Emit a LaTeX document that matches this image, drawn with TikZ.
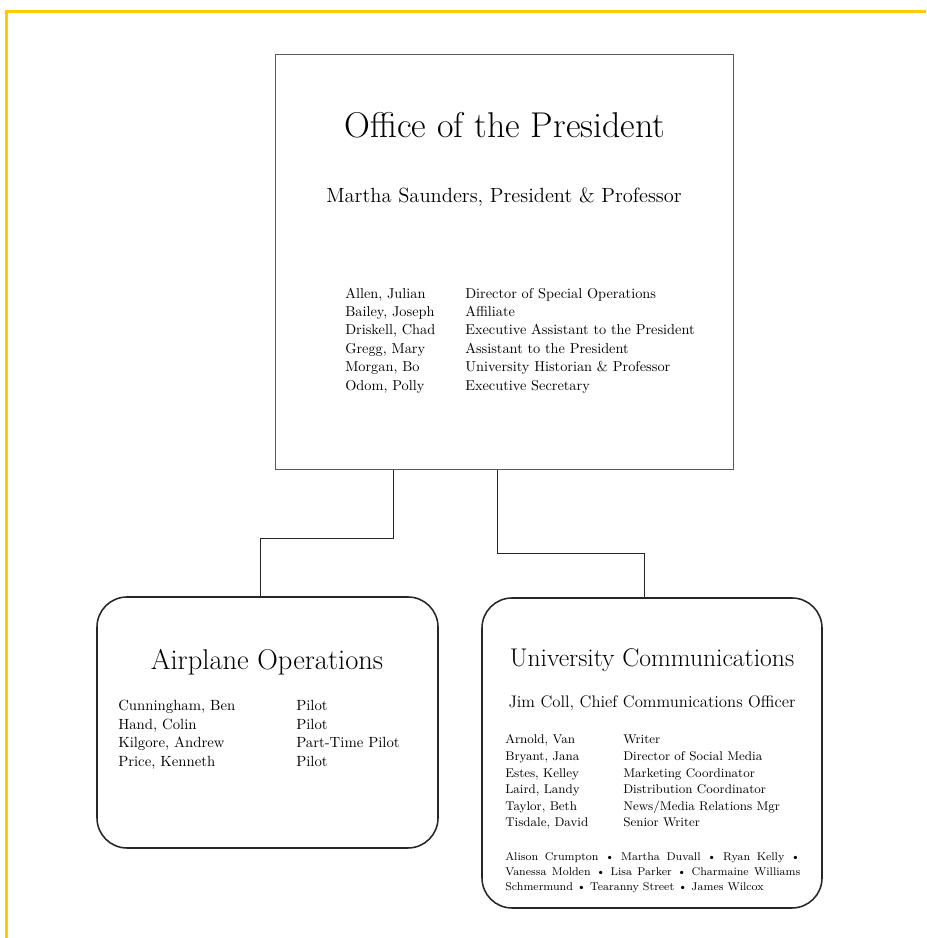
\documentclass[tikz,border=0pt]{standalone}
\usepackage{fontspec}

\begin{document}
\begin{tikzpicture}[
  orgbox/.style={shape=rectangle,draw=black!65,line width=0.7pt,inner sep=0pt},
  unitbox/.style={orgbox,rounded corners=0.75cm,draw=black!85,line width=1.1pt},
  staff/.style={anchor=north west,inner sep=0pt,align=left},
  link/.style={draw=black!85,line width=0.7pt}]
\definecolor{orgchart_gold}{RGB}{255,204,0}
\useasboundingbox (0,0) rectangle (23.15,23.45);
\draw[color=orgchart_gold,line width=0.08cm] (0.16,0) to (0.16,23.16) to (23.15,23.16);

% office of the president
\node[orgbox,minimum width=11.45cm,minimum height=10.375cm] (pres) at (12.6,16.8875) {};
\node[font=\fontsize{25.5}{30}\selectfont] (prestitle) at (12.625,20.325) {Office of the President};
\node[font=\fontsize{14.6}{17}\selectfont] (preshead) at (12.6,18.525) {Martha Saunders, President \& Professor};
\node[staff,font=\fontsize{10.2}{13.1}\selectfont] (presstaff) at (8.625,16.325) {%
\begin{tabular}{@{}p{3cm}@{}l@{}}
Allen, Julian & Director of Special Operations\\
Bailey, Joseph & Affiliate\\
Driskell, Chad & Executive Assistant to the President\\
Gregg, Mary & Assistant to the President\\
Morgan, Bo & University Historian \& Professor\\
Odom, Polly & Executive Secretary
\end{tabular}};

% airplane operations
\node[unitbox,minimum width=8.525cm,minimum height=6.275cm] (air) at (6.6875,5.3875) {};
\node[font=\fontsize{20.3}{24}\selectfont] (airtitle) at (6.675,6.9) {Airplane Operations};
\node[staff,font=\fontsize{10.5}{13.3}\selectfont] (airstaff) at (2.95,6.025) {%
\begin{tabular}{@{}p{4.45cm}@{}l@{}}
Cunningham, Ben & Pilot\\
Hand, Colin & Pilot\\
Kilgore, Andrew & Part-Time Pilot\\
Price, Kenneth & Pilot
\end{tabular}};

% university communications
\node[unitbox,minimum width=8.5cm,minimum height=7.75cm] (comm) at (16.3,4.625) {};
\node[font=\fontsize{18.2}{22}\selectfont] (commtitle) at (16.3,6.95) {University Communications};
\node[font=\fontsize{11.9}{14}\selectfont] (commhead) at (16.3,5.875) {Jim Coll, Chief Communications Officer};
\node[staff,font=\fontsize{9}{11.8}\selectfont] (commstaff) at (12.625,5.15) {%
\begin{tabular}{@{}p{2.95cm}@{}l@{}}
Arnold, Van & Writer\\
Bryant, Jana & Director of Social Media\\
Estes, Kelley & Marketing Coordinator\\
Laird, Landy & Distribution Coordinator\\
Taylor, Beth & News/Media Relations Mgr\\
Tisdale, David & Senior Writer
\end{tabular}};
\node[staff,align=justify,text width=7.375cm,font=\fontsize{8}{10.7}\selectfont] (commother) at (12.625,2.15) {%
Alison Crumpton \textbullet{} Martha Duvall \textbullet{} Ryan Kelly \textbullet\linebreak
Vanessa Molden \textbullet{} Lisa Parker \textbullet{} Charmaine Williams\linebreak
Schmermund \textbullet{} Tearanny Street \textbullet{} James Wilcox};

% connectors
\coordinate (airtap) at (9.825,10.0);
\coordinate (airelbow) at (6.5,10.0);
\coordinate (commtap) at (12.425,9.625);
\coordinate (commelbow) at (16.1,9.625);
\draw[link] (pres.south -| airtap) |- (airelbow) to (air.north -| airelbow);
\draw[link] (pres.south -| commtap) |- (commelbow) to (comm.north -| commelbow);
\end{tikzpicture}
\end{document}
